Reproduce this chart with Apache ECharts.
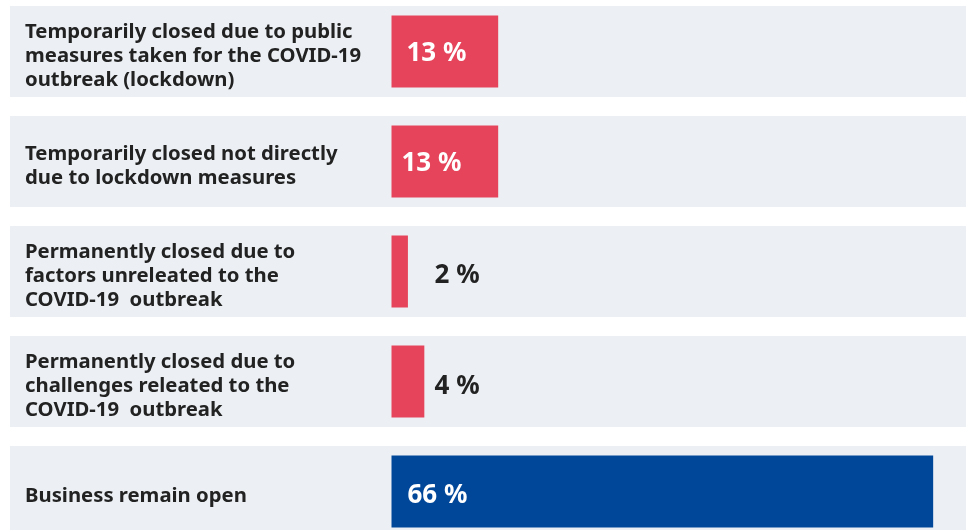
<!DOCTYPE html>
<html>
<head>
<meta charset="utf-8">
<script src="https://cdn.jsdelivr.net/npm/echarts@6/dist/echarts.min.js"></script>
<style>
  html, body { margin: 0; padding: 0; background: #ffffff; }
  #chart { width: 966px; height: 530px; }
</style>
</head>
<body>
<div id="chart"></div>
<script>
// Business status categories (top to bottom)
const categories = [
  'Temporarily closed due to public\nmeasures taken for the COVID-19\noutbreak (lockdown)',
  'Temporarily closed not directly\ndue to lockdown measures',
  'Permanently closed due to\nfactors unreleated to the\nCOVID-19  outbreak',
  'Permanently closed due to\nchallenges releated to the\nCOVID-19  outbreak',
  'Business remain open'
];
// Share of businesses, in percent
const shares = [13, 13, 2, 4, 66];
const valueLabels = ['13 %', '13 %', '2 %', '4 %', '66 %'];

const RED = '#e5445a';
const BLUE = '#00479a';
const BAND = '#ecf0f4';
const TEXT = '#222222';

// per-bar label styling: inside (white) on wide bars, outside (dark) on thin ones
const labelStyle = [
  { color: '#ffffff', distance: 15, dy: 2 },
  { color: '#ffffff', distance: 10, dy: 2 },
  { color: TEXT, distance: 43, dy: 4 },
  { color: TEXT, distance: 43, dy: 5 },
  { color: '#ffffff', distance: 16, dy: 4 }
];
const barColors = [RED, RED, RED, RED, BLUE];

const chart = echarts.init(document.getElementById('chart'), null, { renderer: 'canvas' });

const gridTop = -3.5;
const gridHeight = 550;
const labelShift = 5; // category text sits slightly below each band's centre

const gridBase = { right: 0, height: gridHeight, outerBoundsMode: 'none', containLabel: false };

chart.setOption({
  animation: false,
  grid: [
    Object.assign({ left: 10, top: gridTop }, gridBase),
    Object.assign({ left: 391.5, top: gridTop }, gridBase),
    Object.assign({ left: 391.5, top: gridTop + labelShift }, gridBase)
  ],
  xAxis: [
    { gridIndex: 0, type: 'value', min: 0, max: 1, show: false },
    { gridIndex: 1, type: 'value', min: 0, max: 70, show: false },
    { gridIndex: 2, type: 'value', min: 0, max: 70, show: false }
  ],
  yAxis: [
    { gridIndex: 0, type: 'category', inverse: true, data: categories, show: false },
    { gridIndex: 1, type: 'category', inverse: true, data: categories, show: false },
    {
      gridIndex: 2, type: 'category', inverse: true, data: categories, z: 5,
      axisLine: { show: false }, axisTick: { show: false }, splitLine: { show: false },
      axisLabel: {
        show: true, interval: 0, hideOverlap: false,
        align: 'left', margin: 366.5,
        color: TEXT, fontFamily: 'Noto Sans', fontWeight: 'bold',
        fontSize: 20.3, lineHeight: 24
      }
    }
  ],
  series: [
    {
      type: 'bar', xAxisIndex: 0, yAxisIndex: 0,
      data: categories.map(() => 1),
      barWidth: 91, silent: true, z: 1,
      itemStyle: { color: BAND }
    },
    {
      type: 'bar', xAxisIndex: 1, yAxisIndex: 1,
      barWidth: 72, z: 2,
      data: shares.map((v, i) => ({
        value: v,
        itemStyle: { color: barColors[i] },
        label: {
          show: true, position: 'insideLeft',
          distance: labelStyle[i].distance,
          offset: [0, labelStyle[i].dy],
          color: labelStyle[i].color,
          formatter: valueLabels[i]
        }
      })),
      label: {
        show: true, fontFamily: 'Noto Sans', fontWeight: 'bold', fontSize: 26
      }
    }
  ]
});
</script>
</body>
</html>
